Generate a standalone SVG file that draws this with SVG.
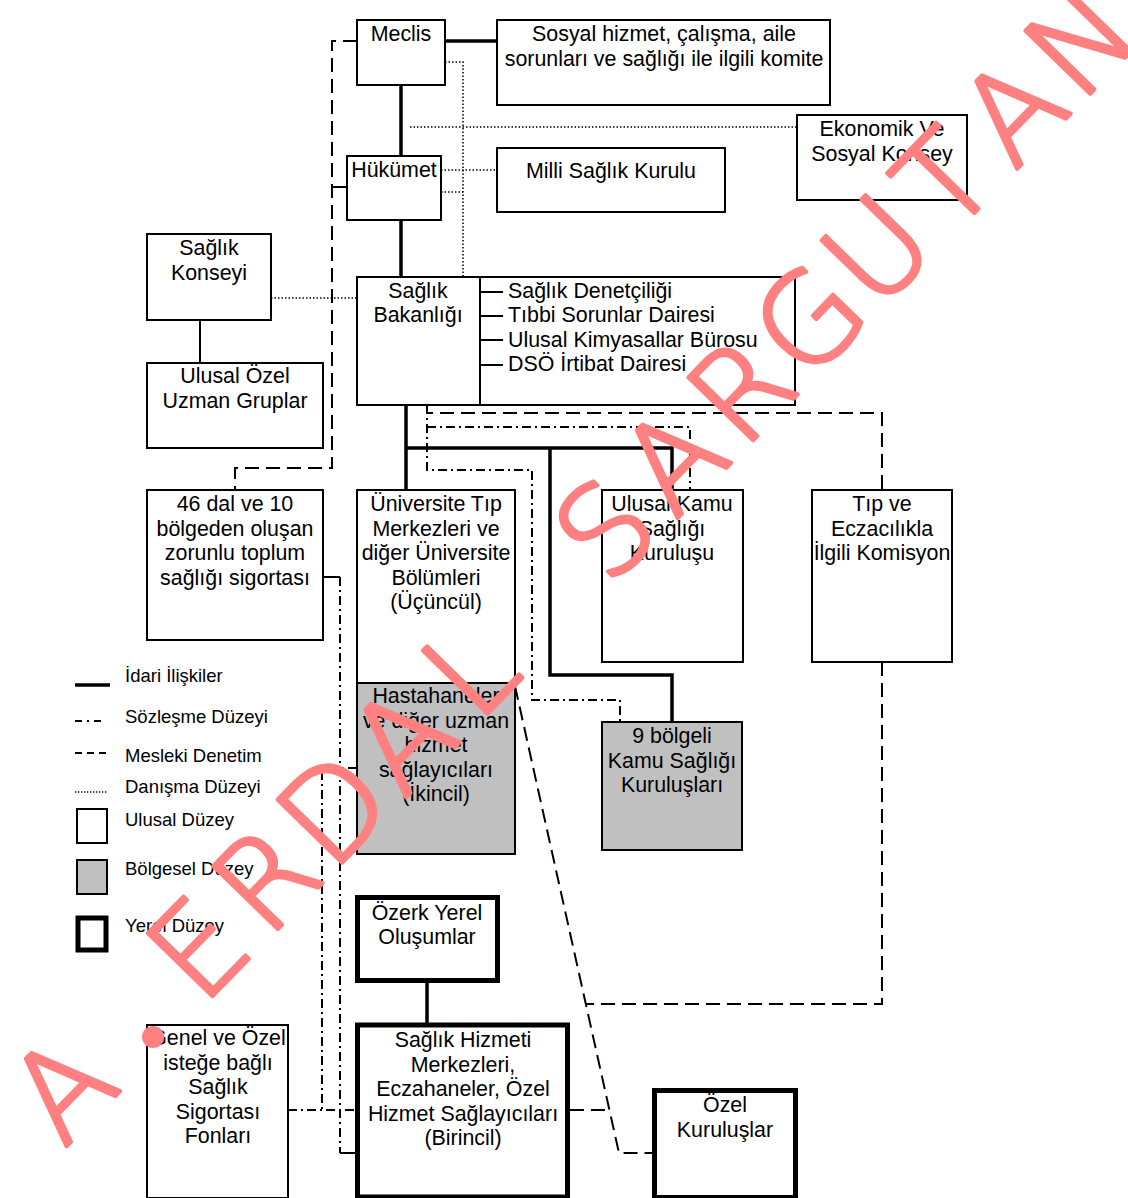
<svg xmlns="http://www.w3.org/2000/svg" width="1128" height="1198" viewBox="0 0 1128 1198">
<style>
text{font-family:"Liberation Sans",Arial,sans-serif;fill:#000}
.t{font-size:21.4px;text-anchor:middle}
.l{font-size:21.4px}
.lg{font-size:18.5px}
.box{fill:#fff;stroke:#000;stroke-width:2}
.reg{fill:#c0c0c0;stroke:#000;stroke-width:2}
.loc{fill:#fff;stroke:#000;stroke-width:5}
.adm{fill:none;stroke:#000;stroke-width:3.5}
.thin{fill:none;stroke:#000;stroke-width:2}
.dash{fill:none;stroke:#000;stroke-width:2;stroke-dasharray:14 7}
.dd{fill:none;stroke:#000;stroke-width:2;stroke-dasharray:9 4 2 4}
.dot{fill:none;stroke:#000;stroke-width:1.5;stroke-dasharray:1.5 2}
.wm{font-family:"DejaVu Sans",sans-serif;font-weight:200;font-size:124px;fill:#ff8080;stroke:#ff8080;stroke-width:4;stroke-linejoin:round;text-anchor:middle}
</style>
<rect width="1128" height="1198" fill="#fff"/>
<g id="connectors">
<path class="adm" d="M445,41 H497"/>
<path class="adm" d="M401,85 V156"/>
<path class="adm" d="M401,220 V277"/>
<path class="adm" d="M406,405 V490"/>
<path class="adm" d="M407,448 H672 V490"/>
<path class="adm" d="M550,448 V675 H672 V722"/>
<path class="adm" d="M427,983 V1025"/>
<path class="thin" d="M200,320 V363"/>
<path class="dot" d="M445,62 H463 V277"/>
<path class="dot" d="M441,170 H497"/>
<path class="dot" d="M441,192 H463"/>
<path class="dot" d="M410,127 H797"/>
<path class="dot" d="M271,298 H357"/>
<path class="dash" d="M357,41 H332 V468 H235 V490"/>
<path class="dash" d="M347,187 H332"/>
<path class="dash" d="M427,405 V413 H882 V490"/>
<path class="dash" d="M882,662 V1004 H586"/>
<path class="dash" d="M515,686 L619,1153 H654"/>
<path class="dash" d="M570,1110 H612"/>
<path class="dd" d="M427,405 V470 H532 V700 H620 V722"/>
<path class="dd" d="M427,427 H690 V490"/>
<path class="thin" d="M323,577 H340"/>
<path class="dd" d="M340,577 V1153"/>
<path class="thin" d="M340,1153 H357"/>
<path class="dd" d="M357,768 H322 V1110"/>
<path class="dd" d="M288,1110 H357"/>
</g>
<g id="meclis"><rect class="box" x="357" y="20" width="88" height="65"/><text class="t" x="401" y="41">Meclis</text></g>
<g id="komite"><rect class="box" x="497" y="20" width="333" height="85"/><text class="t" x="664" y="41">Sosyal hizmet, çalışma, aile</text><text class="t" x="664" y="66">sorunları ve sağlığı ile ilgili komite</text></g>
<g id="hukumet"><rect class="box" x="347" y="156" width="94" height="64"/><text class="t" x="394" y="177">Hükümet</text></g>
<g id="milli"><rect class="box" x="497" y="148" width="228" height="64"/><text class="t" x="611" y="178">Milli Sağlık Kurulu</text></g>
<g id="ekonomik"><rect class="box" x="797" y="115" width="170" height="85"/><text class="t" x="882" y="136">Ekonomik Ve</text><text class="t" x="882" y="161">Sosyal Konsey</text></g>
<g id="saglik-konseyi"><rect class="box" x="147" y="234" width="124" height="86"/><text class="t" x="209" y="255">Sağlık</text><text class="t" x="209" y="280">Konseyi</text></g>
<g id="uzman-gruplar"><rect class="box" x="147" y="363" width="176" height="85"/><text class="t" x="235" y="383">Ulusal Özel</text><text class="t" x="235" y="408">Uzman Gruplar</text></g>
<g id="bakanlik"><rect class="box" x="357" y="277" width="438" height="128"/><path class="thin" d="M480,277 V405 M480,292 H503 M480,316 H503 M480,340 H503 M480,365 H503"/>
<text class="t" x="418" y="298">Sağlık</text><text class="t" x="418" y="322">Bakanlığı</text>
<text class="l" x="508" y="298">Sağlık Denetçiliği</text><text class="l" x="508" y="322">Tıbbi Sorunlar Dairesi</text><text class="l" x="508" y="346.5">Ulusal Kimyasallar Bürosu</text><text class="l" x="508" y="371">DSÖ İrtibat Dairesi</text></g>
<g id="zorunlu-sigorta"><rect class="box" x="147" y="490" width="176" height="150"/><text class="t" x="235" y="511">46 dal ve 10</text><text class="t" x="235" y="535.5">bölgeden oluşan</text><text class="t" x="235" y="560">zorunlu toplum</text><text class="t" x="235" y="584.5">sağlığı sigortası</text></g>
<g id="universite"><rect class="box" x="357" y="490" width="158" height="193"/><text class="t" x="436" y="511">Üniversite Tıp</text><text class="t" x="436" y="535.5">Merkezleri ve</text><text class="t" x="436" y="560">diğer Üniversite</text><text class="t" x="436" y="584.5">Bölümleri</text><text class="t" x="436" y="609">(Üçüncül)</text></g>
<g id="hastahaneler"><rect class="reg" x="357" y="683" width="158" height="171"/><text class="t" x="436" y="703">Hastahaneler</text><text class="t" x="436" y="727.5">ve diğer uzman</text><text class="t" x="436" y="752">hizmet</text><text class="t" x="436" y="776.5">sağlayıcıları</text><text class="t" x="436" y="801">(İkincil)</text></g>
<g id="kamu-sagligi"><rect class="box" x="602" y="490" width="141" height="172"/><text class="t" x="672" y="511">Ulusal Kamu</text><text class="t" x="672" y="535.5">Sağlığı</text><text class="t" x="672" y="560">Kuruluşu</text></g>
<g id="tip-komisyon"><rect class="box" x="812" y="490" width="140" height="172"/><text class="t" x="882" y="511">Tıp ve</text><text class="t" x="882" y="535.5">Eczacılıkla</text><text class="t" x="882" y="560">İlgili Komisyon</text></g>
<g id="bolgeli"><rect class="reg" x="602" y="722" width="140" height="128"/><text class="t" x="672" y="743">9 bölgeli</text><text class="t" x="672" y="767.5">Kamu Sağlığı</text><text class="t" x="672" y="792">Kuruluşları</text></g>
<g id="ozerk"><rect class="loc" x="357.5" y="897.5" width="140" height="83"/><text class="t" x="427" y="920">Özerk Yerel</text><text class="t" x="427" y="944">Oluşumlar</text></g>
<g id="birincil"><rect class="loc" x="357.5" y="1025" width="210" height="172"/><text class="t" x="463" y="1047">Sağlık Hizmeti</text><text class="t" x="463" y="1071.5">Merkezleri,</text><text class="t" x="463" y="1096">Eczahaneler, Özel</text><text class="t" x="463" y="1120.5">Hizmet Sağlayıcıları</text><text class="t" x="463" y="1145">(Birincil)</text></g>
<g id="genel-ozel"><rect class="box" x="147" y="1025" width="141" height="173"/><text class="t" x="218" y="1045">Genel ve Özel</text><text class="t" x="218" y="1069.5">isteğe bağlı</text><text class="t" x="218" y="1094">Sağlık</text><text class="t" x="218" y="1118.5">Sigortası</text><text class="t" x="218" y="1143">Fonları</text></g>
<g id="ozel-kuruluslar"><rect class="loc" x="654.5" y="1090.5" width="141" height="107"/><text class="t" x="725" y="1112">Özel</text><text class="t" x="725" y="1136.5">Kuruluşlar</text></g>
<g id="legend">
<path d="M75,685 H110" fill="none" stroke="#000" stroke-width="3.5"/>
<path d="M75,721 H103" fill="none" stroke="#000" stroke-width="1.8" stroke-dasharray="7 5 2 5"/>
<path d="M75,753 H110" fill="none" stroke="#000" stroke-width="1.8" stroke-dasharray="7 5"/>
<path d="M75,792 H108" fill="none" stroke="#000" stroke-width="1.3" stroke-dasharray="1.3 1.7"/>
<rect class="box" x="77" y="809" width="30" height="34"/>
<rect class="reg" x="77" y="860" width="30" height="34"/>
<rect class="loc" x="78" y="918" width="28" height="32"/>
<text class="lg" x="125" y="682">İdari İlişkiler</text>
<text class="lg" x="125" y="723">Sözleşme Düzeyi</text>
<text class="lg" x="125" y="762">Mesleki Denetim</text>
<text class="lg" x="125" y="793">Danışma Düzeyi</text>
<text class="lg" x="125" y="826">Ulusal Düzey</text>
<text class="lg" x="125" y="875">Bölgesel Düzey</text>
<text class="lg" x="125" y="932">Yerel Düzey</text>
</g>
<g id="watermark">
<text class="wm" transform="translate(62,1088) rotate(-45.8)" x="0 194.8 292.2 389.6 487 584.4 779.2 876.6 974 1071.4 1168.8 1266.2 1363.6 1461" y="44">AERDALSARGUTAN</text>
<circle cx="153" cy="1037" r="11" fill="#ff8080"/>
</g>
</svg>
